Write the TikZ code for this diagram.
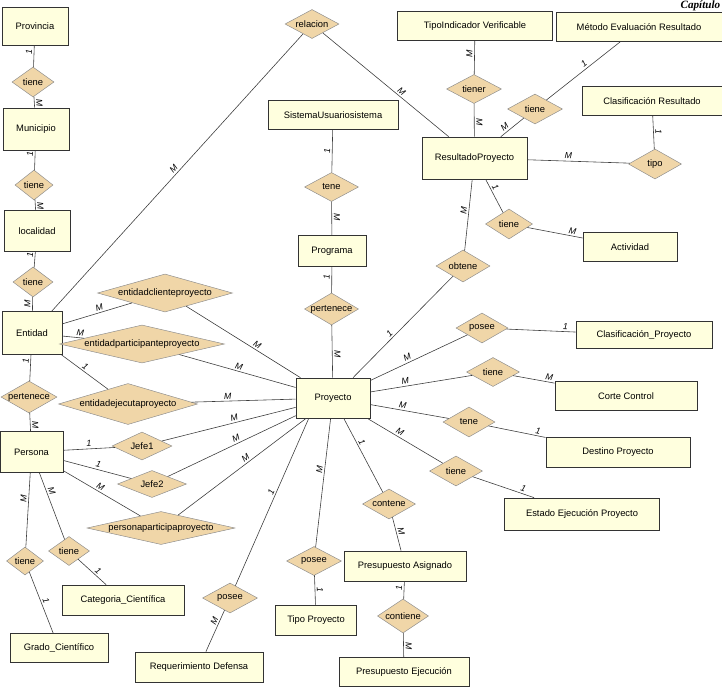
\documentclass[tikz,border=0pt]{standalone}
\usepackage{fontspec}
\setmainfont{Liberation Sans}
\newfontfamily\headfont{Liberation Serif}
\usepackage{tikz}
\usetikzlibrary{shapes.geometric}
\usepackage{xcolor}
\definecolor{entfill}{RGB}{255,255,222}
\definecolor{relfill}{RGB}{240,214,168}
\definecolor{edgegray}{RGB}{60,60,60}

\begin{document}
\begin{tikzpicture}[
    x=0.3mm, y=-0.3mm,
    font=\fontsize{8}{9}\selectfont,
    entity/.style 2 args={rectangle, draw=black!80, fill=entfill, line width=0.6pt, minimum width=#1*0.3mm, minimum height=#2*0.3mm, inner sep=0pt},
    relation/.style 2 args={diamond, draw=black!45, fill=relfill, line width=0.4pt, minimum width=#1*0.3mm, minimum height=#2*0.3mm, inner sep=0pt},
    link/.style={draw=edgegray, line width=0.5pt},
    card/.style={sloped, above, inner sep=1.5pt, font=\fontsize{7.5}{8}\selectfont\itshape}
]
    \useasboundingbox (0,0) rectangle (722,690);

    % Header
    \node[anchor=north east, inner sep=0.5pt, font=\headfont\fontsize{9.5}{10}\selectfont\bfseries\itshape] (capitulo) at (721,0) {Capítulo};

    % Location chain
    \node[entity={66}{38}] (provincia) at (35,26) {Provincia};
    \node[relation={42}{30}, label=center:tiene] (tiene1) at (33,82) {};
    \node[entity={66}{42}] (municipio) at (36,129) {Municipio};
    \node[relation={38}{30}, label=center:tiene] (tiene2) at (34,185) {};
    \node[entity={66}{41}] (localidad) at (37,231) {localidad};
    \node[relation={40}{30}, label=center:tiene] (tiene3) at (33,282) {};
    \node[entity={60}{43}] (entidad) at (32,333) {Entidad};
    \node[relation={56}{32}, label=center:pertenece] (pertenece1) at (29,397) {};
    \node[entity={63}{41}] (persona) at (31.5,452) {Persona};

    % Entidad / Persona with Proyecto
    \node[relation={135}{38}, label=center:entidadclienteproyecto] (eclient) at (165,293) {};
    \node[relation={165}{38}, label=center:entidadparticipanteproyecto] (epartic) at (142,344) {};
    \node[relation={139}{41}, label=center:entidadejecutaproyecto] (eejecuta) at (128,404) {};
    \node[relation={60}{28}, label=center:Jefe1] (jefe1) at (142,446) {};
    \node[relation={69}{27}, label=center:Jefe2] (jefe2) at (152,484) {};
    \node[relation={148}{33}, label=center:personaparticipaproyecto] (ppartic) at (161,528) {};

    % Persona details
    \node[relation={37}{28}, label=center:tiene] (tieneG) at (25,561) {};
    \node[relation={41}{29}, label=center:tiene] (tieneC) at (69,551) {};
    \node[entity={122}{30}] (categoria) at (123,600) {Categoria\_Científica};
    \node[entity={98}{29}] (grado) at (59,648) {Grado\_Científico};

    % Proyecto and its satellites
    \node[entity={74}{40}] (proyecto) at (333,398) {Proyecto};
    \node[relation={55}{30}, label=center:posee] (poseeR) at (230,598) {};
    \node[entity={128}{30}] (requerimiento) at (199,667) {Requerimiento Defensa};
    \node[relation={55}{29}, label=center:posee] (poseeT) at (314,561) {};
    \node[entity={81}{30}] (tipoproy) at (316,620) {Tipo Proyecto};
    \node[relation={53}{30}, label=center:contene] (contene) at (389,504) {};
    \node[entity={122}{30}] (asignado) at (405,566) {Presupuesto Asignado};
    \node[relation={51}{34}, label=center:contiene] (contiene) at (403,616) {};
    \node[entity={130}{29}] (ejecucion) at (404,672) {Presupuesto Ejecución};
    \node[relation={53}{30}, label=center:tiene] (tieneE) at (456,471) {};
    \node[entity={155}{32}] (estado) at (582,514) {Estado Ejecución Proyecto};
    \node[relation={52}{30}, label=center:tene] (teneD) at (469,422) {};
    \node[entity={144}{30}] (destino) at (618,452) {Destino Proyecto};
    \node[relation={53}{29}, label=center:tiene] (tieneCC) at (493,372) {};
    \node[entity={142}{29}] (corte) at (626,396) {Corte Control};
    \node[relation={52}{30}, label=center:posee] (poseeC) at (482,328) {};
    \node[entity={136}{27}] (clasproy) at (644,335) {Clasificación\_Proyecto};
    \node[relation={54}{32}, label=center:obtene] (obtene) at (463,266) {};

    % Programa chain
    \node[entity={130}{29}] (sistema) at (333,115) {SistemaUsuariosistema};
    \node[relation={54}{29}, label=center:tene] (teneS) at (331.5,187) {};
    \node[entity={68}{31}] (programa) at (332,251) {Programa};
    \node[relation={54}{32}, label=center:pertenece] (pertenece2) at (331.5,309) {};

    % Resultados
    \node[relation={54}{29}, label=center:relacion] (relacion) at (312,24) {};
    \node[entity={105}{42}] (resultado) at (474.5,158) {ResultadoProyecto};
    \node[entity={155}{29}] (tipoind) at (475,26) {TipoIndicador Verificable};
    \node[relation={55}{29}, label=center:tiener] (tiener) at (474,89) {};
    \node[relation={55}{30}, label=center:tiene] (tieneM) at (535,109) {};
    \node[entity={166}{29}] (metodo) at (639,27) {Método Evaluación Resultado};
    \node[entity={140}{29}] (clasres) at (652,101) {Clasificación Resultado};
    \node[relation={53}{30}, label=center:tipo] (tipo) at (655,164) {};
    \node[relation={47}{30}, label=center:tiene] (tieneA) at (509,224) {};
    \node[entity={94}{29}] (actividad) at (630,247) {Actividad};

    % Location links
    \draw[link] (provincia) -- node[card, pos=.3] {1} (tiene1);
    \draw[link] (tiene1) -- node[card, pos=.6] {M} (municipio);
    \draw[link] (municipio) -- node[card, pos=.2] {1} (tiene2);
    \draw[link] (tiene2) -- node[card, pos=.6] {M} (localidad);
    \draw[link] (localidad) -- node[card, pos=.2] {1} (tiene3);
    \draw[link] (tiene3) -- node[card, pos=.5] {M} (entidad);
    \draw[link] (entidad) -- node[card, pos=.25] {1} (pertenece1);
    \draw[link] (pertenece1) -- node[card, pos=.7] {M} (persona);

    % Entidad links
    \draw[link] (entidad) -- node[card, pos=.5] {M} (relacion);
    \draw[link] (relacion) -- node[card, pos=.6] {M} (resultado);
    \draw[link] (entidad) -- node[card, pos=.55] {M} (eclient);
    \draw[link] (eclient) -- node[card, pos=.6] {M} (proyecto);
    \draw[link] (entidad) -- node[card, pos=.8] {M} (epartic);
    \draw[link] (epartic) -- node[card, pos=.5] {M} (proyecto);
    \draw[link] (entidad) -- node[card, pos=.45] {1} (eejecuta);
    \draw[link] (eejecuta) -- node[card, pos=.35] {M} (proyecto);

    % Persona links
    \draw[link] (persona) -- node[card, pos=.5] {1} (jefe1);
    \draw[link] (jefe1) -- node[card, pos=.55] {M} (proyecto);
    \draw[link] (persona) -- node[card, pos=.5] {1} (jefe2);
    \draw[link] (jefe2) -- node[card, pos=.55] {M} (proyecto);
    \draw[link] (persona) -- node[card, pos=.45] {M} (ppartic);
    \draw[link] (ppartic) -- node[card, pos=.55] {M} (proyecto);
    \draw[link] (persona) -- node[card, pos=.35] {M} (tieneG);
    \draw[link] (tieneG) -- node[card, pos=.5] {1} (grado);
    \draw[link] (persona) -- node[card, pos=.3] {M} (tieneC);
    \draw[link] (tieneC) -- node[card, pos=.6] {1} (categoria);

    % Proyecto links
    \draw[link] (proyecto.-140) -- node[card, pos=.45] {1} (poseeR);
    \draw[link] (poseeR) -- node[card, pos=.3] {M} (requerimiento);
    \draw[link] (proyecto) -- node[card, pos=.4] {M} (poseeT);
    \draw[link] (poseeT) -- node[card, pos=.5] {1} (tipoproy);
    \draw[link] (proyecto) -- node[card, pos=.35] {1} (contene);
    \draw[link] (contene) -- node[card, pos=.45] {M} (asignado);
    \draw[link] (asignado) -- node[card, pos=.4] {1} (contiene);
    \draw[link] (contiene) -- node[card, pos=.55] {M} (ejecucion);
    \draw[link] (proyecto) -- node[card, pos=.4] {M} (tieneE);
    \draw[link] (tieneE) -- node[card, pos=.8] {1} (estado);
    \draw[link] (proyecto) -- node[card, pos=.4] {M} (teneD);
    \draw[link] (teneD) -- node[card, pos=.85] {1} (destino);
    \draw[link] (proyecto) -- node[card, pos=.35] {M} (tieneCC);
    \draw[link] (tieneCC) -- node[card, pos=.85] {M} (corte);
    \draw[link] (proyecto) -- node[card, pos=.4] {M} (poseeC);
    \draw[link] (poseeC) -- node[card, pos=.85] {1} (clasproy);
    \draw[link] (proyecto) -- node[card, pos=.4] {1} (obtene);
    \draw[link] (obtene) -- node[card, pos=.55] {M} (resultado);

    % Programa links
    \draw[link] (sistema) -- node[card, pos=.5] {1} (teneS);
    \draw[link] (teneS) -- node[card, pos=.45] {M} (programa);
    \draw[link] (programa) -- node[card, pos=.4] {1} (pertenece2);
    \draw[link] (pertenece2) -- node[card, pos=.55] {M} (proyecto);

    % Resultado links
    \draw[link] (tipoind) -- node[card, pos=.4] {M} (tiener);
    \draw[link] (tiener) -- node[card, pos=.55] {M} (resultado);
    \draw[link] (resultado) -- node[card, pos=.3] {M} (tieneM);
    \draw[link] (tieneM) -- node[card, pos=.55] {1} (metodo);
    \draw[link] (resultado) -- node[card, pos=.4] {M} (tipo);
    \draw[link] (clasres) -- node[card, pos=.5] {1} (tipo);
    \draw[link] (resultado) -- node[card, pos=.3] {1} (tieneA);
    \draw[link] (tieneA) -- node[card, pos=.8] {M} (actividad);
\end{tikzpicture}
\end{document}
